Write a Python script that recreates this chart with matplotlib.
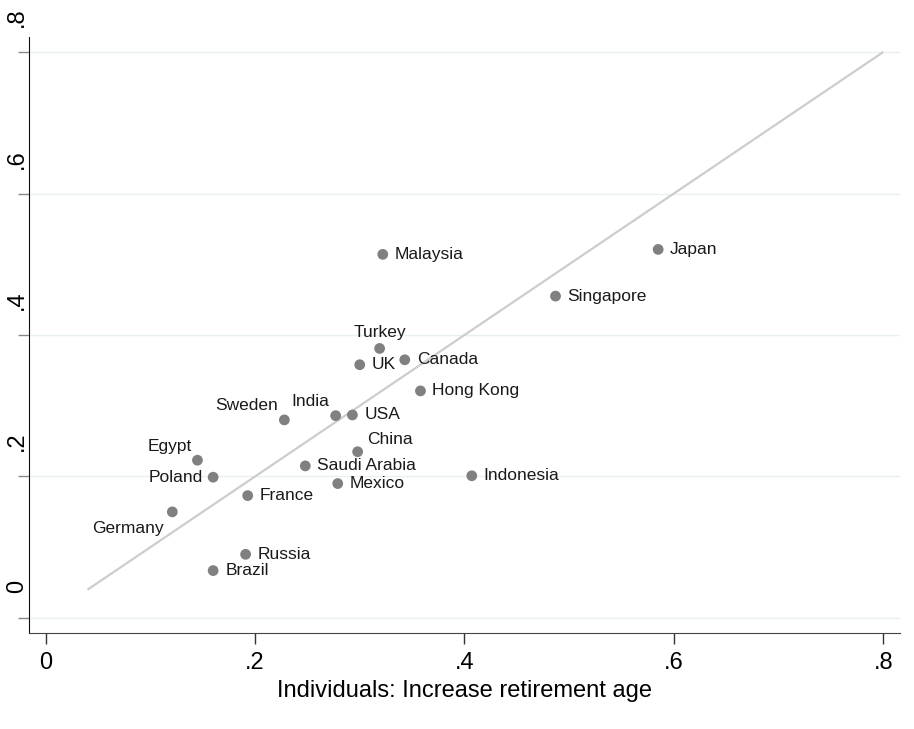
import matplotlib
matplotlib.use("Agg")
from matplotlib import pyplot as plt
import matplotlib.transforms as mtransforms

plt.rcParams['font.family'] = ['Liberation Sans', 'DejaVu Sans']

countries = ["Japan", "Malaysia", "Singapore", "Turkey", "Canada", "UK", "Hong Kong",
             "Sweden", "India", "USA", "China", "Egypt", "Poland", "Saudi Arabia",
             "Indonesia", "Mexico", "France", "Germany", "Russia", "Brazil"]
x_vals = [0.585, 0.322, 0.487, 0.319, 0.343, 0.300, 0.358,
          0.228, 0.277, 0.293, 0.298, 0.145, 0.160, 0.248,
          0.407, 0.279, 0.193, 0.121, 0.191, 0.160]
y_vals = [0.521, 0.514, 0.455, 0.381, 0.365, 0.358, 0.321,
          0.280, 0.286, 0.287, 0.235, 0.223, 0.199, 0.215,
          0.201, 0.190, 0.173, 0.150, 0.090, 0.067]
# label placement (clock position as in Stata mlabpos)
label_pos = [3, 3, 3, 12, 3, 3, 3,
             11, 11, 3, 1, 11, 9, 3,
             3, 3, 3, 7, 3, 3]

line_x = [0.04, 0.8]
line_y = [0.04, 0.8]

ticks = [0, 0.2, 0.4, 0.6, 0.8]
tick_labels = ["0", ".2", ".4", ".6", ".8"]

fig = plt.figure(figsize=(9.14, 7.29), dpi=100)
ax = fig.add_axes([0.0317, 0.1321, 0.9530, 0.8171])

ax.plot(line_x, line_y, color='#cdcdcd', lw=1.6, solid_capstyle='butt', zorder=2)
ax.scatter(x_vals, y_vals, s=60, color='#808080', edgecolors='none', zorder=3)

offsets = {3: ((12, 0), 'left', 'center'),
           12: ((0, 16), 'center', 'center'),
           11: ((-6, 14), 'right', 'center'),
           1: ((9, 12), 'left', 'center'),
           9: ((-10, 0), 'right', 'center'),
           7: ((-9, -17), 'right', 'center')}
for name, xv, yv, pos in zip(countries, x_vals, y_vals, label_pos):
	off, ha, va = offsets[pos]
	ax.annotate(name, (xv, yv), xytext=off, textcoords='offset pixels',
	            ha=ha, va=va, fontsize=12.5, color='#1a1a1a', zorder=4)

ax.set_xlim(-0.0159, 0.816)
ax.set_ylim(-0.0208, 0.8212)

ax.set_xticks(ticks)
ax.set_xticklabels(tick_labels)
ax.set_yticks(ticks)
ax.set_yticklabels(tick_labels, rotation=90, va='bottom')
ax.yaxis.grid(True, color='#e8f0f1', lw=1)
ax.set_axisbelow(True)

ax.tick_params(axis='x', length=8, width=1, color='#333333', labelsize=17, pad=6)
ax.tick_params(axis='y', length=8, width=1, color='#888888', labelsize=17, pad=-7.5)

# the y labels sit above their ticks
shift = mtransforms.ScaledTranslation(0, 25 / 100, fig.dpi_scale_trans)
for lab in ax.get_yticklabels():
	lab.set_transform(lab.get_transform() + shift)

ax.spines['top'].set_visible(False)
ax.spines['right'].set_visible(False)
ax.spines['left'].set_color('#111111')
ax.spines['bottom'].set_color('#444444')

ax.set_xlabel("Individuals: Increase retirement age", fontsize=17, labelpad=4)

plt.savefig("out.png", dpi=100)
